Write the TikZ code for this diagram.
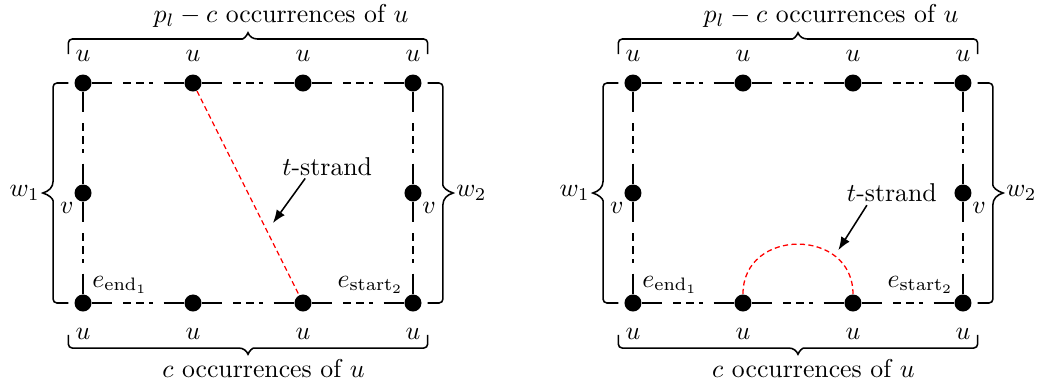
\documentclass[tikz,border=0pt]{standalone}
\usetikzlibrary{positioning,arrows.meta,calc}

% solid stub -- dashed middle -- solid stub
\newcommand{\brokenedge}[2]{%
  \draw[edge] (#1) -- ($(#1)!0.4cm!(#2)$);
  \draw[edge, densely dashed] ($(#1)!0.55cm!(#2)$) -- ($(#2)!0.55cm!(#1)$);
  \draw[edge] ($(#2)!0.4cm!(#1)$) -- (#2);
}

% brace with square arms: #1 start, #2 angle, #3 length, #4 arm, #5 tip height, #6 tip half width
\newcommand{\armbrace}[6]{%
  \begin{scope}[shift={#1}, rotate=#2]
    \draw[edge, rounded corners=1.5pt] (0,0) -- (0,#4) -- ({#3/2-#6},#4)
      [sharp corners] .. controls ({#3/2-0.5*#6},#4) and ({#3/2-0.15*#6},{#4+0.4*#5}) .. ({#3/2},{#4+#5})
      .. controls ({#3/2+0.15*#6},{#4+0.4*#5}) and ({#3/2+0.5*#6},#4) .. ({#3/2+#6},#4)
      [rounded corners=1.5pt] -- (#3,#4) -- (#3,0);
  \end{scope}
}

\begin{document}
\begin{tikzpicture}[
  dot/.style={circle, fill=black, inner sep=0pt, minimum size=6.6pt},
  edge/.style={line width=0.6pt},
  lbl/.style={inner sep=1pt},
  strand/.style={red, dash pattern=on 2pt off 1.3pt, line width=0.5pt},
  arr/.style={-{Latex[length=1.8mm]}, line width=0.6pt},
]
\useasboundingbox (-1.132,-1.118) rectangle (13.146,4.132);

\foreach \p/\ox in {a/0, b/7.5} {
\begin{scope}[xshift=\ox cm]
  % ---- dots ----
  \node[dot] (\p-t1) at (0,3) {};
  \node[dot] (\p-t2) at (1.5,3) {};
  \node[dot] (\p-t3) at (3,3) {};
  \node[dot] (\p-t4) at (4.5,3) {};
  \node[dot] (\p-b1) at (0,0) {};
  \node[dot] (\p-b2) at (1.5,0) {};
  \node[dot] (\p-b3) at (3,0) {};
  \node[dot] (\p-b4) at (4.5,0) {};
  \node[dot] (\p-lv) at (0,1.5) {};
  \node[dot] (\p-rv) at (4.5,1.5) {};

  % ---- edges ----
  \brokenedge{\p-t1}{\p-t2}
  \brokenedge{\p-t2}{\p-t3}
  \brokenedge{\p-t3}{\p-t4}
  \brokenedge{\p-b1}{\p-b2}
  \brokenedge{\p-b2}{\p-b3}
  \brokenedge{\p-b3}{\p-b4}
  \brokenedge{\p-t1}{\p-lv}
  \brokenedge{\p-lv}{\p-b1}
  \brokenedge{\p-t4}{\p-rv}
  \brokenedge{\p-rv}{\p-b4}

  % ---- vertex labels ----
  \foreach \i in {1,...,4} {
    \node[lbl, above=1.3mm of \p-t\i] (\p-tu\i) {$u$};
    \node[lbl, below=1.8mm of \p-b\i] (\p-bu\i) {$u$};
  }
  \node[lbl, below left=0pt of \p-lv] (\p-lvl) {$v$};
  \node[lbl, below right=0pt of \p-rv] (\p-rvl) {$v$};
  \node[lbl, above right=0pt of \p-b1] (\p-end) {$e_{\mathrm{end}_1}$};
  \node[lbl, above left=0pt of \p-b4] (\p-start) {$e_{\mathrm{start}_2}$};

  % ---- braces ----
  \armbrace{(-0.2,0)}{90}{3}{0.208}{0.14}{0.16}
  \armbrace{(4.7,3)}{-90}{3}{0.208}{0.14}{0.16}
  \armbrace{(-0.2,3.395)}{0}{4.9}{0.205}{0.085}{0.13}
  \armbrace{(4.7,-0.436)}{180}{4.9}{0.178}{0.085}{0.13}
  \node[lbl, anchor=east] (\p-w1) at (-0.55,1.5) {$w_1$};
  \node[lbl, anchor=west] (\p-w2) at (5.05,1.5) {$w_2$};
  \node[anchor=base] (\p-top) at (2.7,3.83) {$p_l-c$ occurrences of $u$};
  \node[anchor=base] (\p-bot) at (2.46,-1.01) {$c$ occurrences of $u$};
\end{scope}
}

% ---- left: straight strand ----
\draw[strand] (a-t2) -- (a-b3);
\node[lbl] (a-ts) at (3.33,1.865) {$t$-strand};
\coordinate (a-tip) at (2.59,1.09);
\draw[arr] ([xshift=-3mm]a-ts.south) -- (a-tip);

% ---- right: strand turning back ----
\draw[strand] (b-b2) to[out=90, in=90, looseness=1.55] (b-b3);
\node[lbl] (b-ts) at (11.03,1.50) {$t$-strand};
\coordinate (b-tip) at (10.30,0.72);
\draw[arr] ([xshift=-3.4mm]b-ts.south) -- (b-tip);
\end{tikzpicture}
\end{document}
